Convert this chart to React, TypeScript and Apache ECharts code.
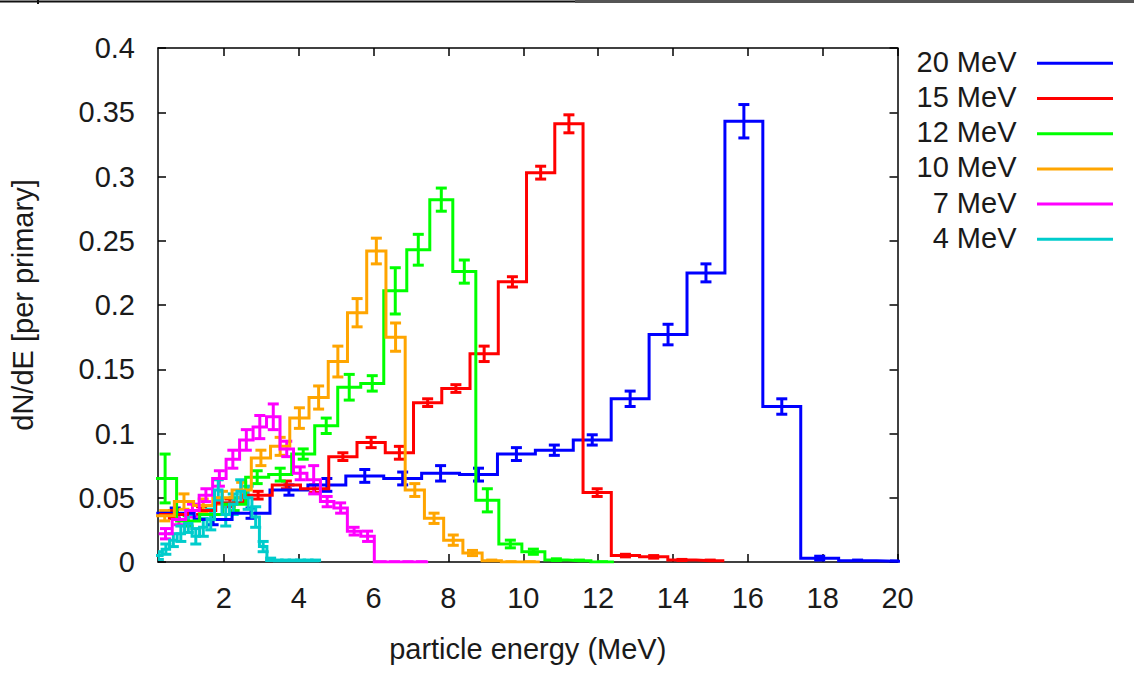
import React, { useEffect, useRef } from "react";
import * as echarts from "echarts";

// ---- data ----
const seriesNames = ["20 MeV", "15 MeV", "12 MeV", "10 MeV", "7 MeV", "4 MeV"];
const seriesColors = ["#0000ff", "#ff0000", "#00ff00", "#ffa500", "#ff00ff", "#00cccc"];
// first bin centre and bin width (MeV) of each histogram
const binStart = [0.7, 0.65, 0.43, 0.42, 0.44, 0.25];
const binWidth = [1.013, 0.755, 0.615, 0.514, 0.36, 0.2];

const values20 = [0.038, 0.033, 0.038, 0.056, 0.06, 0.067, 0.065, 0.069, 0.068, 0.084, 0.087, 0.095, 0.127, 0.177, 0.225, 0.343, 0.121, 0.003, 0.001, 0.0005];
const errors20 = [0.004, 0.004, 0.004, 0.004, 0.005, 0.005, 0.005, 0.006, 0.005, 0.005, 0.004, 0.004, 0.006, 0.008, 0.007, 0.013, 0.006, 0.0015, 0.0005, 0.0003];

const values15 = [0.037, 0.04, 0.046, 0.052, 0.06, 0.057, 0.082, 0.093, 0.085, 0.124, 0.135, 0.162, 0.218, 0.303, 0.341, 0.054, 0.005, 0.004, 0.0015, 0.001];
const errors15 = [0.003, 0.003, 0.003, 0.003, 0.003, 0.003, 0.003, 0.004, 0.005, 0.003, 0.003, 0.006, 0.004, 0.005, 0.007, 0.003, 0.001, 0.001, 0.0005, 0.0005];

const values12 = [0.065, 0.032, 0.037, 0.045, 0.066, 0.068, 0.084, 0.106, 0.136, 0.139, 0.211, 0.243, 0.282, 0.226, 0.048, 0.014, 0.008, 0.0015, 0.001, 0.0];
const errors12 = [0.019, 0.004, 0.004, 0.005, 0.005, 0.005, 0.004, 0.006, 0.01, 0.006, 0.018, 0.012, 0.009, 0.009, 0.009, 0.003, 0.002, 0.001, 0.0005, 0.0];

const values10 = [0.036, 0.047, 0.044, 0.05, 0.056, 0.081, 0.09, 0.112, 0.128, 0.156, 0.194, 0.242, 0.175, 0.056, 0.034, 0.017, 0.007, 0.001, 0.0, 0.0];
const errors10 = [0.004, 0.006, 0.005, 0.005, 0.006, 0.006, 0.007, 0.008, 0.009, 0.012, 0.011, 0.01, 0.011, 0.005, 0.004, 0.004, 0.002, 0.0005, 0.0, 0.0];

const values7 = [0.022, 0.033, 0.04, 0.052, 0.065, 0.08, 0.095, 0.105, 0.113, 0.088, 0.069, 0.064, 0.047, 0.042, 0.024, 0.02, 0.0, 0.0, 0.0, 0.0];
const errors7 = [0.004, 0.004, 0.005, 0.005, 0.006, 0.007, 0.008, 0.009, 0.01, 0.006, 0.005, 0.011, 0.004, 0.004, 0.003, 0.004, 0.0, 0.0, 0.0, 0.0];

const values4 = [0.005, 0.01, 0.017, 0.022, 0.03, 0.02, 0.027, 0.033, 0.056, 0.037, 0.045, 0.055, 0.05, 0.035, 0.012, 0.002, 0.001, 0.001, 0.001, 0.001, 0.001, 0.001];
const errors4 = [0.003, 0.004, 0.005, 0.006, 0.007, 0.006, 0.007, 0.008, 0.008, 0.009, 0.008, 0.009, 0.009, 0.008, 0.004, 0.001, 0.0005, 0.0005, 0.0005, 0.0005, 0.0005, 0.0005];

const allValues = [values20, values15, values12, values10, values7, values4];
const allErrors = [errors20, errors15, errors12, errors10, errors7, errors4];

const xTicks = [2, 4, 6, 8, 10, 12, 14, 16, 18, 20];
const xMin = 0.24;
const xMax = 20;
const yMin = 0;
const yMax = 0.4;
const yStep = 0.05;

const xTitle = "particle energy (MeV)";
const yTitle = "dN/dE [per primary]";

// ---- layout / style ----
const W = 1134;
const H = 684;
const FONT = "'Liberation Sans', Arial, sans-serif";
const FS = 29;
const TEXT = "#1a1a1a";
const GRID = { left: 157.5, right: W - 897.5, top: 48, bottom: H - 562 };

function stepData(start: number, width: number, vals: number[]) {
  const pts: number[][] = [[start - width / 2, vals[0]]];
  vals.forEach((v, k) => pts.push([start + k * width, v]));
  pts.push([start + (vals.length - 1) * width + width / 2, vals[vals.length - 1]]);
  return pts;
}

function errData(start: number, width: number, vals: number[], errs: number[]) {
  return vals.map((v, k) => [start + k * width, v, errs[k]]);
}

function buildOption() {
  const series: any[] = [];
  seriesNames.forEach((name, i) => {
    const color = seriesColors[i];
    series.push({
      type: "line",
      name,
      data: stepData(binStart[i], binWidth[i], allValues[i]),
      step: "middle",
      symbol: "none",
      showSymbol: false,
      clip: true,
      silent: true,
      lineStyle: { color, width: 3, cap: "butt", join: "miter" },
      itemStyle: { color },
    });
    series.push({
      type: "custom",
      name,
      data: errData(binStart[i], binWidth[i], allValues[i], allErrors[i]),
      clip: true,
      silent: true,
      encode: { x: 0, y: 1 },
      renderItem: (_p: any, api: any) => {
        const x = api.value(0);
        const y = api.value(1);
        const e = api.value(2);
        const a = api.coord([x, y + e]);
        const b = api.coord([x, y - e]);
        const hw = 5.5;
        const style = { stroke: color, lineWidth: 3, fill: null };
        return {
          type: "group",
          children: [
            { type: "line", shape: { x1: a[0], y1: a[1], x2: b[0], y2: b[1] }, style },
            { type: "line", shape: { x1: a[0] - hw, y1: a[1], x2: a[0] + hw, y2: a[1] }, style },
            { type: "line", shape: { x1: b[0] - hw, y1: b[1], x2: b[0] + hw, y2: b[1] }, style },
          ],
        };
      },
    });
  });

  const axisLine = { show: true, onZero: false, lineStyle: { color: "#000", width: 1.5 } };
  const tickStyle = { color: "#000", width: 1.5 };

  const legendGraphics: any[] = [];
  seriesNames.forEach((name, i) => {
    const y = 63.3 + i * 35.2;
    legendGraphics.push({
      type: "text",
      x: 1016.5,
      y: y - 1.5,
      style: {
        text: name,
        fill: TEXT,
        font: `${FS}px ${FONT}`,
        textAlign: "right",
        textVerticalAlign: "middle",
      },
    });
    legendGraphics.push({
      type: "line",
      shape: { x1: 1037, y1: y, x2: 1113, y2: y },
      style: { stroke: seriesColors[i], lineWidth: 3 },
    });
  });

  return {
    animation: false,
    backgroundColor: "#ffffff",
    grid: GRID,
    xAxis: [
      {
        type: "value",
        position: "bottom",
        min: xMin,
        max: xMax,
        axisLine,
        axisTick: { show: true, inside: true, length: 8, customValues: xTicks, lineStyle: tickStyle },
        axisLabel: { customValues: xTicks, fontSize: FS, fontFamily: FONT, color: TEXT, margin: 21 },
        splitLine: { show: false },
        name: xTitle,
        nameLocation: "middle",
        nameGap: 72,
        nameTextStyle: { fontSize: FS, fontFamily: FONT, color: TEXT },
      },
      {
        type: "value",
        position: "top",
        min: xMin,
        max: xMax,
        axisLine,
        axisTick: { show: true, inside: true, length: 8, customValues: xTicks, lineStyle: tickStyle },
        axisLabel: { show: false, customValues: xTicks },
        splitLine: { show: false },
      },
    ],
    yAxis: [
      {
        type: "value",
        position: "left",
        min: yMin,
        max: yMax,
        interval: yStep,
        axisLine,
        axisTick: { show: true, inside: true, length: 8, lineStyle: tickStyle },
        axisLabel: { fontSize: FS, fontFamily: FONT, color: TEXT, margin: 23 },
        splitLine: { show: false },
        name: yTitle,
        nameLocation: "middle",
        nameGap: 121,
        nameRotate: 90,
        nameTextStyle: { fontSize: FS, fontFamily: FONT, color: TEXT },
      },
      {
        type: "value",
        position: "right",
        min: yMin,
        max: yMax,
        interval: yStep,
        axisLine,
        axisTick: { show: true, inside: true, length: 8, lineStyle: tickStyle },
        axisLabel: { show: false },
        splitLine: { show: false },
      },
    ],
    graphic: [
      { type: "line", shape: { x1: 0, y1: 1.5, x2: 575, y2: 1.5 }, style: { stroke: "#111", lineWidth: 2 } },
      { type: "rect", shape: { x: 575, y: 0, width: W - 575, height: 3 }, style: { fill: "#555" } },
      { type: "line", shape: { x1: 38, y1: 0, x2: 38, y2: 4 }, style: { stroke: "#111", lineWidth: 2 } },
      ...legendGraphics,
    ],
    series,
  };
}

export default function App() {
  const ref = useRef<HTMLDivElement>(null);
  useEffect(() => {
    if (!ref.current) return;
    const chart = echarts.init(ref.current, undefined, { renderer: "svg" });
    chart.setOption(buildOption() as any);
    return () => chart.dispose();
  }, []);
  return (
    <div
      ref={ref}
      style={{ position: "absolute", left: 0, top: 0, width: W, height: H, background: "#fff" }}
    />
  );
}
